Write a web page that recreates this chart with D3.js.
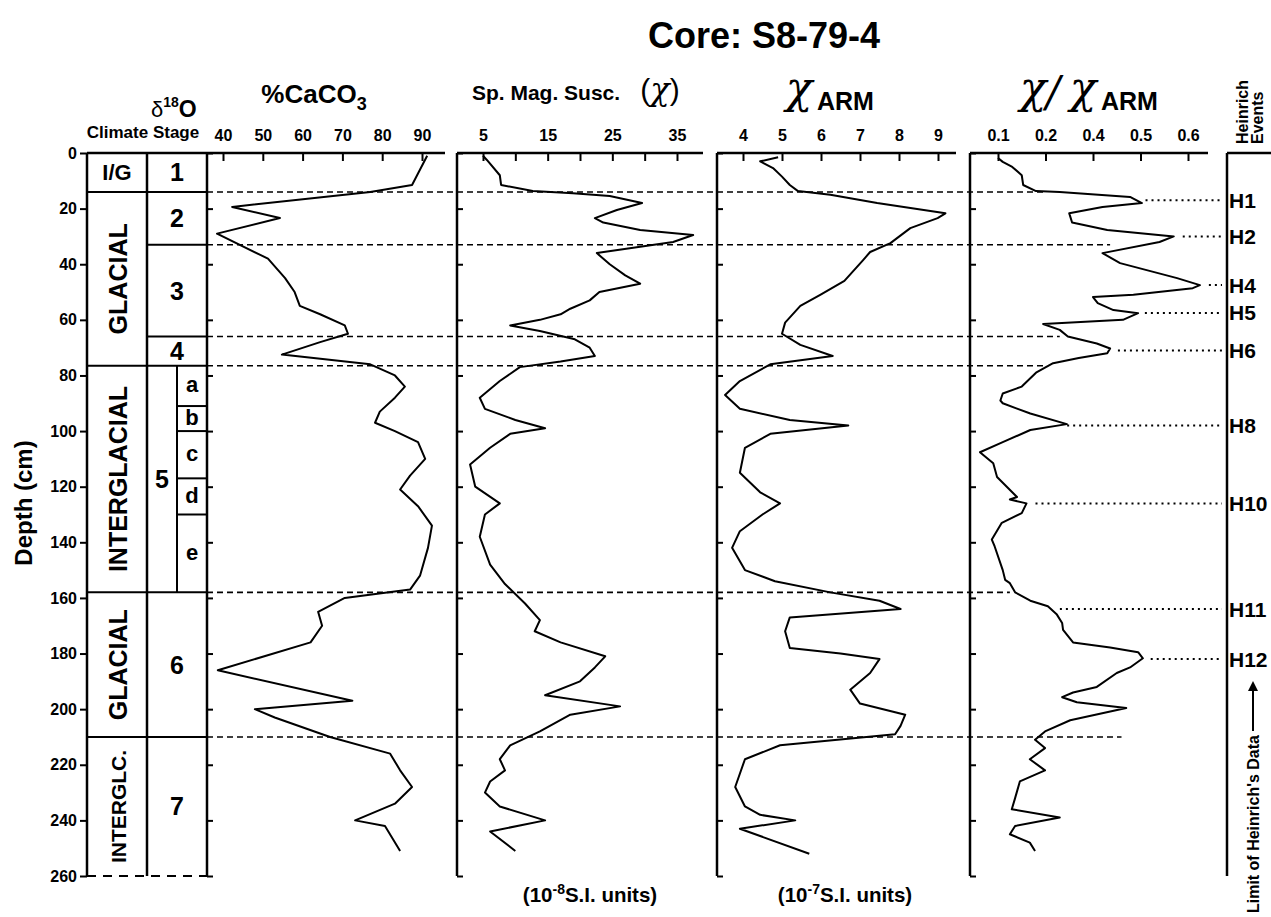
<!DOCTYPE html>
<html>
<head>
<meta charset="utf-8">
<script src="https://cdn.jsdelivr.net/npm/d3@7"></script>
<style>
body { margin: 0; background: #fff; }
text { font-family: "Liberation Sans", Arial, Helvetica, sans-serif; font-weight: bold; fill: #000; }
.greek { font-family: "DejaVu Serif", "Liberation Serif", serif; font-style: italic; font-weight: normal; }
</style>
</head>
<body>
<div id="content"></div>
<script>
(function() {

// ---- data ----
var depthTicks = [0, 20, 40, 60, 80, 100, 120, 140, 160, 180, 200, 220, 240, 260];
var caco3Ticks = [40, 50, 60, 70, 80, 90];
var suscTicks = [5, 10, 15, 20, 25, 30, 35];
var suscLabels = [5, 15, 25, 35];
var armTicks = [4, 5, 6, 7, 8, 9];
var ratioTicks = [0.1, 0.2, 0.3, 0.4, 0.5];
var ratioTickLabels = ['0.1', '0.2', '0.4', '0.5', '0.6'];

var climateStages = ['I/G', 'GLACIAL', 'INTERGLACIAL', 'GLACIAL', 'INTERGLC.'];
var climateBounds = [[0, 14], [14, 76.5], [76.5, 158], [158, 210], [210, 260]];
var isoStages = ['1', '2', '3', '4', '5', '6', '7'];
var isoBounds = [[0, 14], [14, 33], [33, 66], [66, 76.5], [76.5, 158], [158, 210], [210, 260]];
var subStages = ['a', 'b', 'c', 'd', 'e'];
var subBounds = [[76.5, 91], [91, 100], [100, 117], [117, 130], [130, 158]];

// stage boundaries drawn dashed across the panels, and where they stop (chi/chiARM units)
var boundaryDepths = [14, 33, 66, 76.5, 158, 210];
var boundaryEnds = [0.195, 0.336, 0.23, 0.195, 0.125, 0.36];

var heinrichEvents = ['H1', 'H2', 'H4', 'H5', 'H6', 'H8', 'H10', 'H11', 'H12'];
var heinrichDepths = [17, 30, 47.5, 57.5, 71, 98, 126, 164, 182];

// [depth cm, value]
var caco3 = [[1, 91.3], [11.5, 87.5], [14, 77], [19.4, 42.3], [23.4, 54.3], [29, 38.5], [38, 51.3],
  [45, 55.6], [50, 58], [55, 59.3], [58, 64.4], [62, 70.6], [65, 71.4], [68, 64.4], [72.5, 54.8],
  [76, 77], [80, 83.2], [84, 85.7], [88, 83.2], [93, 79.4], [97, 78.2], [100, 83.2], [104, 89],
  [110, 90.8], [116, 87], [121, 84.5], [127, 89], [134, 92.5], [142, 91.5], [152, 89.5], [157, 87],
  [160, 70.6], [165, 63.9], [170, 64.9], [176, 62], [186, 38.7], [197, 72.5], [200, 48],
  [203, 53], [210, 66.9], [216, 82], [222, 84.5], [228, 87.5], [234, 83.2], [240, 73.2], [242, 80.7],
  [251, 84.5]];

var susc = [[1, 5], [2.5, 5.6], [8, 7.6], [11.5, 7.8], [13.7, 12.7], [14.5, 18.9], [15.5, 24.6],
  [18, 29.6], [20.5, 25.7], [23.4, 22.3], [25, 23.6], [27.7, 29.3], [29.5, 37.5], [32, 34.4],
  [36, 22.6], [40, 24.6], [44, 27], [47, 29.3], [50, 23], [53, 21.5], [56, 18.5], [58, 17],
  [60, 13.8], [62, 9.2], [64, 13.8], [67, 19.2], [70, 21.5], [73, 22.3], [75, 17], [77, 10.7],
  [82, 7.6], [88, 4.5], [92, 5.3], [96, 10], [99, 14.6], [101, 9.2], [106, 6.1], [112, 3],
  [120, 3.8], [126, 7.6], [130, 5.3], [138, 4.5], [148, 6.1], [155, 8.4], [162, 11.5], [168, 13.8],
  [172, 13], [176, 17], [181, 23.9], [185, 22.3], [190, 20], [195, 14.6], [199, 26.2], [202, 18.5],
  [208, 13.8], [213, 9.2], [218, 7.6], [222, 8.4], [226, 6.1], [230, 5.3], [235, 7.6], [240, 14.6],
  [244, 6.1], [251, 10]];

var arm = [[1.5, 4.9], [3, 4.44], [5.4, 4.77], [8.5, 5], [11.5, 5.2], [13.7, 5.41], [15, 6.24],
  [18, 7.44], [21.7, 9.19], [23.4, 8.99], [27, 8.29], [32.4, 7.78], [35.6, 7.26], [38.5, 7.08],
  [46, 6.6], [51, 5.98], [55, 5.47], [61, 5.08], [65, 5], [69, 5.47], [73, 6.3], [76, 4.7],
  [82, 3.92], [87, 3.54], [92, 3.92], [96, 5.2], [98, 6.7], [101, 4.7], [106, 4.05], [115, 3.92],
  [122, 4.44], [126, 4.95], [130, 4.5], [136, 3.92], [142, 3.72], [150, 4.05], [154, 4.82],
  [158, 6.24], [161, 7.5], [164, 8.04], [167, 5.2], [172, 5.08], [178, 5.2], [180, 6.5], [182, 7.5],
  [187, 7.26], [193, 6.75], [198, 7], [202, 8.16], [206, 8.04], [209, 7.9], [213, 4.95], [218, 4.05],
  [228, 3.8], [235, 4.05], [238, 4.44], [240, 5.34], [243, 3.92], [252, 5.7]];

var ratio = [[1.8, 0.1], [3.2, 0.11], [5, 0.13], [8, 0.15], [11.5, 0.153], [13.7, 0.18], [14, 0.23],
  [15.8, 0.378], [18, 0.403], [19.4, 0.32], [21.7, 0.25], [25, 0.256], [27.7, 0.33], [30, 0.47],
  [32, 0.44], [36, 0.32], [39.6, 0.357], [45, 0.477], [47.5, 0.525], [48.6, 0.51], [51, 0.385],
  [51.8, 0.3], [54, 0.31], [56.5, 0.343], [57.6, 0.395], [60, 0.363], [61.5, 0.195], [63.6, 0.23],
  [66, 0.247], [68.5, 0.308], [70.3, 0.336], [72, 0.33], [73.7, 0.27], [75.6, 0.216], [79, 0.18],
  [84, 0.15], [86.5, 0.11], [89, 0.105], [90, 0.11], [93.7, 0.168], [97.5, 0.245], [99.6, 0.168],
  [104, 0.11], [107.6, 0.062], [111.6, 0.09], [116.5, 0.098], [123.7, 0.14], [124.6, 0.125],
  [126, 0.16], [129.5, 0.15], [133, 0.108], [139, 0.087], [141.5, 0.093], [150, 0.11], [153.5, 0.115],
  [154.7, 0.125], [158, 0.136], [161, 0.168], [163, 0.205], [166, 0.224], [169, 0.235], [171.5, 0.237],
  [176, 0.258], [177.8, 0.336], [179.5, 0.395], [181.7, 0.405], [185, 0.378], [187, 0.35],
  [192, 0.308], [194, 0.258], [195.7, 0.235], [197.5, 0.266], [199.6, 0.37], [204, 0.252],
  [208, 0.199], [211, 0.178], [214, 0.199], [218, 0.167], [222, 0.199], [226, 0.146], [232, 0.136],
  [236, 0.129], [239, 0.23], [242, 0.136], [245, 0.125], [248, 0.167], [251, 0.178]];

// ---- layout ----
var W = 1271, H = 917;
var yTop = 153, yBot = 876;
var colL = 87, colM = 147, colSub = 177, colR = 207;

var svg = d3.select('#content').append('svg')
  .attr('width', W).attr('height', H)
  .style('background', '#fff');

var y = d3.scaleLinear().domain([0, 260]).range([yTop, yBot]);

var panels = [
  { name: 'caco3', data: caco3, x0: colR, xEnd: 445, domain: [40, 90], range: [223, 422], ticks: caco3Ticks,
    fmt: function(d) { return d; } },
  { name: 'susc', data: susc, x0: 457, xEnd: 703, domain: [5, 35], range: [483, 677], ticks: suscTicks,
    fmt: function(d) { return suscLabels.indexOf(d) >= 0 ? d : ''; } },
  { name: 'arm', data: arm, x0: 717, xEnd: 956, domain: [4, 9], range: [743, 938], ticks: armTicks,
    fmt: function(d) { return d; } },
  { name: 'ratio', data: ratio, x0: 970, xEnd: 1208, domain: [0.1, 0.5], range: [998, 1188], ticks: ratioTicks,
    fmt: function(d, i) { return ratioTickLabels[i]; } }
];
panels.forEach(function(p) { p.x = d3.scaleLinear().domain(p.domain).range(p.range); });
var xRatio = panels[3].x;

// interpolate the ratio curve at a depth
function ratioAt(dep) {
  for (var i = 1; i < ratio.length; i++) {
    if (ratio[i][0] >= dep) {
      var a = ratio[i - 1], b = ratio[i];
      return a[1] + (b[1] - a[1]) * (dep - a[0]) / (b[0] - a[0]);
    }
  }
  return ratio[ratio.length - 1][1];
}

// ---- title ----
svg.append('text').attr('x', 764).attr('y', 48).attr('text-anchor', 'middle')
  .style('font-size', '36px').text('Core: S8-79-4');

// ---- dashed stage boundaries across panels ----
svg.append('g').selectAll('line').data(boundaryDepths).enter().append('line')
  .attr('x1', colR).attr('x2', function(d, i) { return xRatio(boundaryEnds[i]); })
  .attr('y1', function(d) { return y(d); }).attr('y2', function(d) { return y(d); })
  .attr('stroke', '#000').attr('stroke-width', 1.6).attr('stroke-dasharray', '6,4');

// ---- panels ----
panels.forEach(function(p) {
  var g = svg.append('g').attr('class', p.name);

  var top = g.append('g').attr('transform', 'translate(0,' + yTop + ')')
    .call(d3.axisTop(p.x).tickValues(p.ticks).tickSize(-8).tickPadding(12).tickFormat(p.fmt));
  top.select('.domain').remove();
  top.selectAll('.tick line').attr('stroke-width', 2);
  top.selectAll('.tick text').style('font-size', '16px').style('font-family', null);

  var left = g.append('g').attr('transform', 'translate(' + p.x0 + ',0)')
    .call(d3.axisLeft(y).tickValues(depthTicks).tickSize(-6).tickFormat(''));
  left.select('.domain').remove();
  left.selectAll('.tick line').attr('stroke-width', 2);

  g.append('line').attr('x1', p.x0).attr('x2', p.xEnd).attr('y1', yTop).attr('y2', yTop)
    .attr('stroke', '#000').attr('stroke-width', 2.5);
  g.append('line').attr('x1', p.x0).attr('x2', p.x0).attr('y1', yTop).attr('y2', yBot)
    .attr('stroke', '#000').attr('stroke-width', 2.5);

  var line = d3.line().x(function(d) { return p.x(d[1]); }).y(function(d) { return y(d[0]); });
  g.append('path').datum(p.data).attr('d', line)
    .attr('fill', 'none').attr('stroke', '#000').attr('stroke-width', 2).attr('stroke-linejoin', 'round');
});

// ---- depth axis and stage columns ----
var dAxis = svg.append('g').attr('transform', 'translate(' + colL + ',0)')
  .call(d3.axisLeft(y).tickValues(depthTicks).tickSize(7).tickPadding(3));
dAxis.select('.domain').remove();
dAxis.selectAll('.tick line').attr('stroke-width', 2);
dAxis.selectAll('.tick text').style('font-size', '16px').style('font-family', null);

var cols = svg.append('g');
[colL, colM].forEach(function(cx) {
  cols.append('line').attr('x1', cx).attr('x2', cx).attr('y1', yTop).attr('y2', yBot)
    .attr('stroke', '#000').attr('stroke-width', 2.5);
});
cols.append('line').attr('x1', colSub).attr('x2', colSub)
  .attr('y1', y(subBounds[0][0])).attr('y2', y(subBounds[subBounds.length - 1][1]))
  .attr('stroke', '#000').attr('stroke-width', 2);
cols.append('line').attr('x1', colL).attr('x2', colR).attr('y1', yTop).attr('y2', yTop)
  .attr('stroke', '#000').attr('stroke-width', 2.5);

climateBounds.forEach(function(b) {
  if (b[1] < 260) cols.append('line').attr('x1', colL).attr('x2', colM).attr('y1', y(b[1])).attr('y2', y(b[1]))
    .attr('stroke', '#000').attr('stroke-width', 2);
});
isoBounds.forEach(function(b) {
  if (b[1] < 260) cols.append('line').attr('x1', colM).attr('x2', colR).attr('y1', y(b[1])).attr('y2', y(b[1]))
    .attr('stroke', '#000').attr('stroke-width', 2);
});
subBounds.forEach(function(b, i) {
  if (i < subBounds.length - 1) cols.append('line').attr('x1', colSub).attr('x2', colR)
    .attr('y1', y(b[1])).attr('y2', y(b[1])).attr('stroke', '#000').attr('stroke-width', 2);
});
cols.append('line').attr('x1', colL).attr('x2', colR).attr('y1', yBot).attr('y2', yBot)
  .attr('stroke', '#000').attr('stroke-width', 2).attr('stroke-dasharray', '9,7');

climateStages.forEach(function(s, i) {
  var cy = y((climateBounds[i][0] + climateBounds[i][1]) / 2);
  var t = cols.append('text').attr('text-anchor', 'middle').text(s);
  if (i === 0) {
    t.attr('x', (colL + colM) / 2).attr('y', cy).attr('dy', '0.36em').style('font-size', '22px');
  } else {
    t.attr('transform', 'translate(' + ((colL + colM) / 2 + 1) + ',' + cy + ') rotate(-90)')
      .attr('dy', '0.36em').style('font-size', s === 'INTERGLC.' ? '21px' : '25px');
  }
});
isoStages.forEach(function(s, i) {
  var cy = y((isoBounds[i][0] + isoBounds[i][1]) / 2);
  cols.append('text').attr('x', s === '5' ? 162 : (colM + colR) / 2).attr('y', cy).attr('dy', '0.36em')
    .attr('text-anchor', 'middle').style('font-size', '25px').text(s);
});
subStages.forEach(function(s, i) {
  var cy = y((subBounds[i][0] + subBounds[i][1]) / 2);
  cols.append('text').attr('x', (colSub + colR) / 2).attr('y', cy).attr('dy', '0.3em')
    .attr('text-anchor', 'middle').style('font-size', '22px').text(s);
});

// ---- headers ----
var hd = svg.append('g');
var d18 = hd.append('text').attr('x', 151).attr('y', 117).style('font-size', '22px');
d18.append('tspan').style('font-weight', 'normal').style('font-size', '22px').text('δ');
d18.append('tspan').attr('dy', -10).style('font-size', '14px').text('18');
d18.append('tspan').attr('dy', 10).style('font-size', '23px').text('O');
hd.append('text').attr('x', 143).attr('y', 138).attr('text-anchor', 'middle')
  .style('font-size', '17px').text('Climate Stage');

var ca = hd.append('text').attr('x', 314).attr('y', 103).attr('text-anchor', 'middle').style('font-size', '26px');
ca.append('tspan').text('%CaCO');
ca.append('tspan').attr('dy', 7).style('font-size', '18px').text('3');

hd.append('text').attr('x', 546).attr('y', 100).attr('text-anchor', 'middle')
  .style('font-size', '21px').text('Sp. Mag. Susc.');
var chiP = hd.append('text').attr('x', 660).attr('y', 100).attr('text-anchor', 'middle').style('font-size', '30px');
chiP.append('tspan').style('font-weight', 'normal').text('(');
chiP.append('tspan').attr('class', 'greek').style('font-size', '32px').text('χ');
chiP.append('tspan').style('font-weight', 'normal').text(')');

hd.append('text').attr('x', 799).attr('y', 103).attr('text-anchor', 'middle').attr('class', 'greek')
  .style('font-size', '44px').text('χ');
hd.append('text').attr('x', 817).attr('y', 110).style('font-size', '25px').text('ARM');

hd.append('text').attr('x', 1033).attr('y', 103).attr('text-anchor', 'middle').attr('class', 'greek')
  .style('font-size', '44px').text('χ');
hd.append('text').attr('x', 1053).attr('y', 106).attr('text-anchor', 'middle').attr('class', 'greek')
  .style('font-size', '42px').text('/');
hd.append('text').attr('x', 1083).attr('y', 103).attr('text-anchor', 'middle').attr('class', 'greek')
  .style('font-size', '44px').text('χ');
hd.append('text').attr('x', 1101).attr('y', 110).style('font-size', '25px').text('ARM');

var he = hd.append('text').attr('transform', 'translate(1248,144) rotate(-90)').style('font-size', '16px');
he.append('tspan').attr('x', 0).attr('y', 0).text('Heinrich');
he.append('tspan').attr('x', 0).attr('y', 15).text('Events');

hd.append('text').attr('transform', 'translate(32,503) rotate(-90)').attr('text-anchor', 'middle')
  .style('font-size', '24px').text('Depth (cm)');

// units under panels
var u1 = hd.append('text').attr('x', 590).attr('y', 902).attr('text-anchor', 'middle').style('font-size', '20.5px');
u1.append('tspan').text('(10');
u1.append('tspan').attr('dy', -8).style('font-size', '14px').text('-8');
u1.append('tspan').attr('dy', 8).text('S.I. units)');
var u2 = hd.append('text').attr('x', 845).attr('y', 902).attr('text-anchor', 'middle').style('font-size', '20.5px');
u2.append('tspan').text('(10');
u2.append('tspan').attr('dy', -8).style('font-size', '14px').text('-7');
u2.append('tspan').attr('dy', 8).text('S.I. units)');

// ---- Heinrich events column ----
var hg = svg.append('g');
hg.append('line').attr('x1', 1227).attr('x2', 1227).attr('y1', yTop).attr('y2', yBot)
  .attr('stroke', '#000').attr('stroke-width', 2.5);
hg.append('line').attr('x1', 1227).attr('x2', W).attr('y1', yTop).attr('y2', yTop)
  .attr('stroke', '#000').attr('stroke-width', 2.5);

hg.selectAll('line.ev').data(heinrichDepths).enter().append('line').attr('class', 'ev')
  .attr('x1', function(d) { return xRatio(ratioAt(d)) + 9; }).attr('x2', 1222)
  .attr('y1', function(d) { return y(d); }).attr('y2', function(d) { return y(d); })
  .attr('stroke', '#000').attr('stroke-width', 2).attr('stroke-dasharray', '2,4');
hg.selectAll('text.ev').data(heinrichDepths).enter().append('text').attr('class', 'ev')
  .attr('x', 1229).attr('y', function(d) { return y(d); }).attr('dy', '0.36em')
  .style('font-size', '21px').text(function(d, i) { return heinrichEvents[i]; });

svg.append('defs').append('marker').attr('id', 'arrow').attr('viewBox', '0 0 10 10')
  .attr('refX', 5).attr('refY', 5).attr('markerWidth', 5).attr('markerHeight', 5).attr('orient', 'auto')
  .append('path').attr('d', 'M0,0 L10,5 L0,10 z').attr('fill', '#000');
hg.append('line').attr('x1', 1253).attr('x2', 1253).attr('y1', 731).attr('y2', 686)
  .attr('stroke', '#000').attr('stroke-width', 2).attr('marker-end', 'url(#arrow)');
hg.append('text').attr('transform', 'translate(1259,735) rotate(-90)').attr('text-anchor', 'end')
  .style('font-size', '16px').text("Limit of Heinrich's Data");

})();
</script>
</body>
</html>
